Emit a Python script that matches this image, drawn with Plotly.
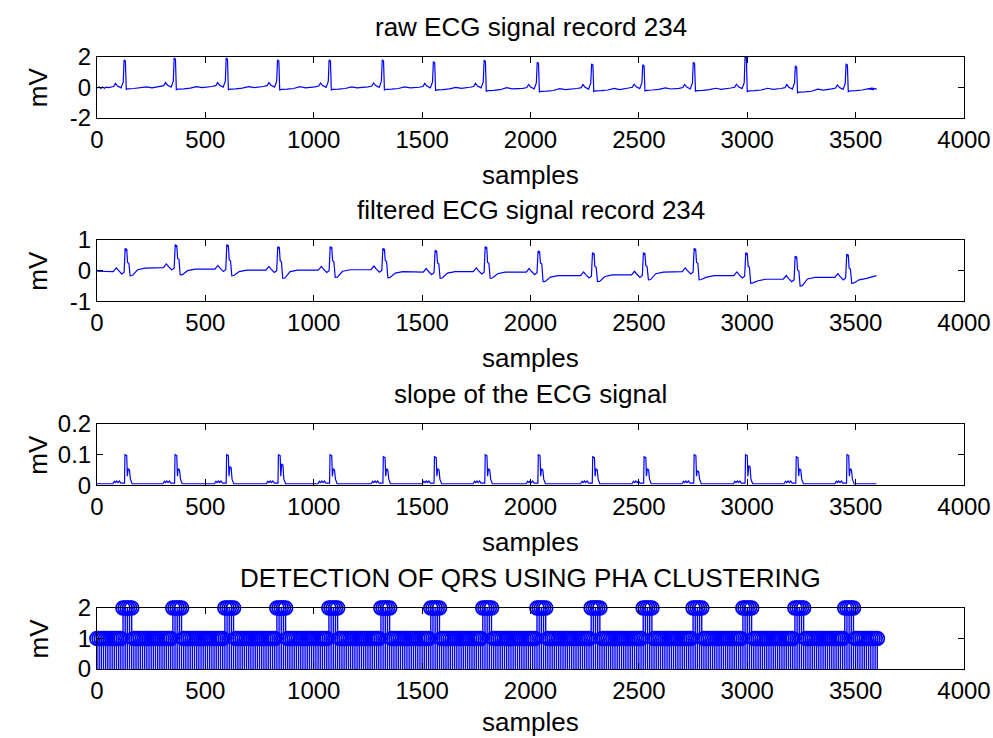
import plotly.graph_objects as go

# ---------------- data ----------------
x_tick_vals = [0, 500, 1000, 1500, 2000, 2500, 3000, 3500, 4000]
x_tick_text = ["0", "500", "1000", "1500", "2000", "2500", "3000", "3500", "4000"]

titles = ["raw ECG signal record 234", "filtered ECG signal record 234",
          "slope of the ECG signal", "DETECTION OF QRS USING PHA CLUSTERING"]
x_label = "samples"
y_label = "mV"

y_ranges = [[-2, 2], [-1, 1], [0, 0.2], [0, 2]]
y_tick_vals = [[-2, 0, 2], [-1, 0, 1], [0, 0.1, 0.2], [0, 1, 2]]
y_tick_text = [["-2", "0", "2"], ["-1", "0", "1"], ["0", "0.1", "0.2"], ["0", "1", "2"]]

# raw ECG: R-peak positions, R amplitudes, level before / after each beat
raw_r_pos = [129, 360, 600, 837, 1075, 1320, 1556, 1790, 2035, 2286, 2522, 2755, 2994, 3226, 3460]
raw_r_amp = [1.78, 1.9, 1.9, 1.78, 1.78, 1.78, 1.67, 1.76, 1.63, 1.52, 1.46, 1.63, 2.0, 1.39, 1.52]
raw_pre = [0.0, 0.05, 0.05, 0.05, 0.03, 0.03, 0.0, 0.0, -0.07, -0.08, -0.05, -0.07, -0.05, -0.08, -0.1]
raw_post = [-0.08, -0.1, -0.1, -0.12, -0.12, -0.12, -0.15, -0.2, -0.25, -0.22, -0.18, -0.2, -0.22, -0.3, -0.22]
raw_start_x = [0, 10, 18, 26, 34, 42, 52]
raw_start_y = [-0.05, 0.02, -0.08, 0.01, -0.07, 0.0, -0.03]
raw_end_x = [3560, 3575, 3590, 3598]
raw_end_y = [-0.1, -0.06, -0.12, -0.12]
# beat shape: (offset from R, reference level, delta)
raw_shape = [(-70, "pre", 0.0), (-52, "pre", 0.05), (-44, "pre", 0.25), (-34, "pre", 0.08),
             (-18, "pre", -0.04), (-8, "pre", 0.35), (-4, "amp", 0.0), (2, "amp", -0.08),
             (6, "post", -0.06), (14, "post", -0.02), (40, "post", 0.0), (70, "post", 0.04),
             (100, "mid", 0.07), (125, "mid", 0.0)]

# filtered ECG
filt_r_pos = [137, 368, 606, 841, 1083, 1326, 1567, 1798, 2042, 2293, 2528, 2762, 3000, 3228, 3466]
filt_r_amp = [0.73, 0.85, 0.85, 0.79, 0.79, 0.73, 0.67, 0.79, 0.65, 0.59, 0.59, 0.73, 0.59, 0.48, 0.54]
filt_s = [-0.17, -0.14, -0.17, -0.25, -0.22, -0.23, -0.25, -0.25, -0.36, -0.36, -0.3, -0.3, -0.41, -0.5, -0.41]
filt_pre = [-0.03, 0.1, 0.05, 0.02, 0.02, 0.03, -0.05, -0.03, -0.05, -0.16, -0.14, -0.03, -0.16, -0.28, -0.22]
filt_post = [0.08, 0.05, 0.02, 0.02, 0.03, -0.03, -0.03, -0.05, -0.16, -0.14, -0.05, -0.16, -0.28, -0.22, -0.25]
filt_start_x = [0, 40]
filt_start_y = [-0.02, -0.03]
filt_end_x = [3596]
filt_end_y = [-0.16]
filt_shape = [(-62, "pre", 0.0), (-48, "pre", 0.12), (-38, "pre", 0.03), (-23, "pre", -0.08),
              (-12, "pre", -0.02), (-7, "amp", 0.0), (-3, "amp", -0.05), (0, "amp", -0.02),
              (4, "pre", 0.3), (10, "pre", 0.27), (16, "s", 0.0), (26, "s", 0.01),
              (50, "post", -0.05), (85, "post", 0.0)]

# slope
slope_r_pos = [129, 360, 598, 837, 1075, 1321, 1557, 1791, 2036, 2287, 2524, 2755, 2992, 3226, 3460]
slope_pk = [0.1, 0.1, 0.1, 0.1, 0.1, 0.093, 0.093, 0.1, 0.1, 0.093, 0.093, 0.1, 0.1, 0.093, 0.1]
slope_sec = [0.054, 0.054, 0.061, 0.07, 0.054, 0.054, 0.054, 0.054, 0.054, 0.054, 0.054, 0.048, 0.064, 0.054, 0.054]
slope_base = 0.005
slope_start_x = [0]
slope_end_x = [3596]
slope_shape = [(-56, "base", 0.0), (-49, "base", 0.008), (-44, "base", 0.004), (-38, "base", 0.009),
               (-32, "base", 0.004), (-26, "base", 0.009), (-19, "base", 0.002), (-2, "base", 0.002),
               (0, "pk", 0.0), (8, "pk", -0.003), (11, "base", 0.025), (15, "sec", 0.0),
               (21, "sec", -0.004), (25, "base", 0.015), (33, "base", 0.0)]

# QRS detection stems
stem_positions = list(range(0, 3601, 10))
qrs_cluster_start = [120, 350, 590, 830, 1070, 1310, 1540, 1780, 2030, 2280, 2520, 2750, 2980, 3220, 3450]
qrs_cluster_len = 40
stem_normal = 1
stem_qrs = 2

# ---------------- build series from the read values ----------------
def build(r_pos, shape, levels, start_x, start_y, end_x, end_y):
    xs, ys = list(start_x), list(start_y)
    for i, r in enumerate(r_pos):
        lv = {k: v[i] for k, v in levels.items()}
        if "pre" in lv and "post" in lv:
            lv["mid"] = (lv["pre"] + lv["post"]) / 2
        for off, ref, d in shape:
            xs.append(r + off)
            ys.append(lv[ref] + d)
    xs += list(end_x)
    ys += list(end_y)
    return xs, ys

raw_x, raw_y = build(raw_r_pos, raw_shape,
                     {"pre": raw_pre, "post": raw_post, "amp": raw_r_amp},
                     raw_start_x, raw_start_y, raw_end_x, raw_end_y)
filt_x, filt_y = build(filt_r_pos, filt_shape,
                       {"pre": filt_pre, "post": filt_post, "amp": filt_r_amp, "s": filt_s},
                       filt_start_x, filt_start_y, filt_end_x, filt_end_y)
nb = len(slope_r_pos)
slope_x, slope_y = build(slope_r_pos, slope_shape,
                         {"base": [slope_base] * nb, "pk": slope_pk, "sec": slope_sec},
                         slope_start_x, [slope_base], slope_end_x, [slope_base])

stem_values = []
for p in stem_positions:
    v = stem_normal
    for c in qrs_cluster_start:
        if c <= p <= c + qrs_cluster_len:
            v = stem_qrs
    stem_values.append(v)
stem_lx, stem_ly = [], []
for p, v in zip(stem_positions, stem_values):
    stem_lx += [p, p, None]
    stem_ly += [0, v, None]

# ---------------- figure ----------------
W, H = 993, 738
FONT = "Liberation Sans, Arial, sans-serif"
BLUE = "#0000FF"
AX_L, AX_R = 97, 964
panel_px = [(56.5, 118), (240, 301.3), (424, 485.3), (608, 669)]
xlabel_gap = [57, 57, 57, 53]

def py(px):
    return 1 - px / H

fig = go.Figure()
fig.add_trace(go.Scatter(x=raw_x, y=raw_y, mode="lines", line=dict(color=BLUE, width=1.2),
                         xaxis="x", yaxis="y", hoverinfo="skip"))
fig.add_trace(go.Scatter(x=filt_x, y=filt_y, mode="lines", line=dict(color=BLUE, width=1.2),
                         xaxis="x2", yaxis="y2", hoverinfo="skip"))
fig.add_trace(go.Scatter(x=slope_x, y=slope_y, mode="lines", line=dict(color=BLUE, width=1.2),
                         xaxis="x3", yaxis="y3", hoverinfo="skip"))
fig.add_trace(go.Scatter(x=stem_lx, y=stem_ly, mode="lines", line=dict(color=BLUE, width=1.4),
                         xaxis="x4", yaxis="y4", hoverinfo="skip", cliponaxis=False))
fig.add_trace(go.Scatter(x=stem_positions, y=stem_values, mode="markers",
                         marker=dict(symbol="circle-open", size=14, color=BLUE,
                                     line=dict(width=1.7, color=BLUE)),
                         xaxis="x4", yaxis="y4", hoverinfo="skip", cliponaxis=False))

layout = dict(width=W, height=H, margin=dict(l=0, r=0, t=0, b=0, autoexpand=False),
              paper_bgcolor="white", plot_bgcolor="white", showlegend=False,
              font=dict(family=FONT, color="black"))
annotations = []
axis_style = dict(showline=True, linecolor="black", linewidth=1, mirror="ticks",
                  ticks="inside", ticklen=6, tickwidth=1, tickcolor="black",
                  showgrid=False, zeroline=False, automargin=False,
                  tickfont=dict(family=FONT, size=24, color="black"))
for i in range(4):
    top, bot = panel_px[i]
    sfx = "" if i == 0 else str(i + 1)
    layout["xaxis" + sfx] = dict(domain=[AX_L / W, AX_R / W], range=[0, 4000],
                                 tickvals=x_tick_vals, ticktext=x_tick_text,
                                 anchor="y" + sfx, **axis_style)
    layout["yaxis" + sfx] = dict(domain=[py(bot), py(top)], range=y_ranges[i],
                                 tickvals=y_tick_vals[i], ticktext=y_tick_text[i],
                                 anchor="x" + sfx, **axis_style)
    cx = (AX_L + AX_R) / 2 / W
    annotations.append(dict(text=titles[i], x=cx, y=py(top - 30), xref="paper", yref="paper",
                            xanchor="center", yanchor="middle", showarrow=False,
                            font=dict(family=FONT, size=26, color="black")))
    annotations.append(dict(text=x_label, x=cx, y=py(bot + xlabel_gap[i]), xref="paper", yref="paper",
                            xanchor="center", yanchor="middle", showarrow=False,
                            font=dict(family=FONT, size=26, color="black")))
    annotations.append(dict(text=y_label, x=38 / W, y=py((top + bot) / 2), xref="paper", yref="paper",
                            xanchor="center", yanchor="middle", showarrow=False, textangle=-90,
                            font=dict(family=FONT, size=26, color="black")))
layout["annotations"] = annotations
fig.update_layout(**layout)

fig.write_html("out.html", config={"displayModeBar": False},
               post_script="document.body.style.margin='0px';document.body.style.overflow='hidden';")
